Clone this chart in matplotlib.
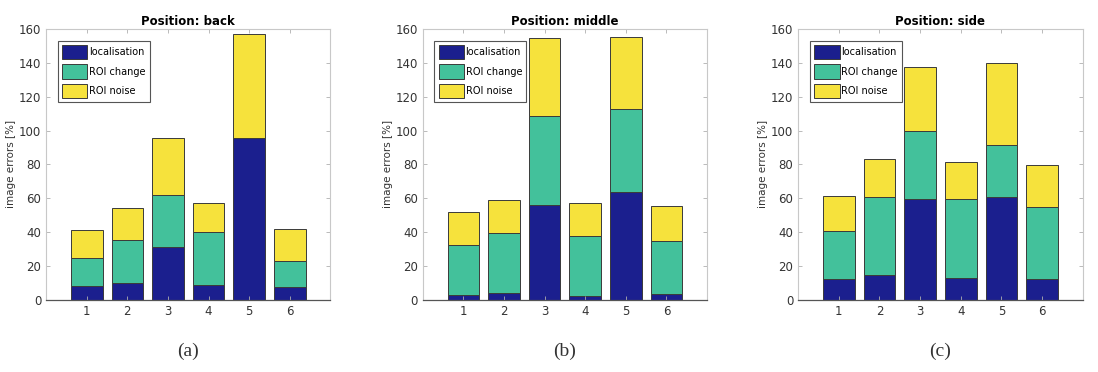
import numpy as np
import matplotlib
matplotlib.use("Agg")
import matplotlib.pyplot as plt

# Data (image errors in %)
groups = [1, 2, 3, 4, 5, 6]
titles = ["Position: back", "Position: middle", "Position: side"]
captions = ["(a)", "(b)", "(c)"]

back_loc = [8.3, 9.9, 31.5, 8.9, 95.6, 7.5]
back_change = [16.7, 25.6, 30.2, 30.9, 0.0, 15.2]
back_noise = [16.4, 18.5, 33.9, 17.5, 61.4, 18.9]

middle_loc = [2.6, 4.1, 55.8, 2.2, 63.8, 3.7]
middle_change = [29.9, 35.3, 53.0, 35.8, 49.1, 30.8]
middle_noise = [19.1, 19.3, 45.7, 19.1, 42.1, 20.7]

side_loc = [12.4, 14.8, 59.3, 13.0, 61.0, 12.4]
side_change = [28.5, 45.8, 40.5, 46.3, 30.5, 42.5]
side_noise = [20.7, 22.8, 37.9, 22.3, 48.7, 24.5]

panels = [
    (back_loc, back_change, back_noise),
    (middle_loc, middle_change, middle_noise),
    (side_loc, side_change, side_noise),
]

colors = ["#1b1f8e", "#43c19b", "#f6e23c"]
labels = ["localisation", "ROI change", "ROI noise"]

fig = plt.figure(figsize=(10.98, 3.72), dpi=100)
lefts = [0.042, 0.385, 0.727]

for i, (loc, change, noise) in enumerate(panels):
    ax = fig.add_axes([lefts[i], 0.194, 0.259, 0.728])
    x = np.array(groups)
    loc = np.array(loc)
    change = np.array(change)
    noise = np.array(noise)
    ax.bar(x, loc, 0.78, color=colors[0], edgecolor="#3a3a3a", linewidth=0.7, label=labels[0])
    ax.bar(x, change, 0.78, bottom=loc, color=colors[1], edgecolor="#3a3a3a", linewidth=0.7, label=labels[1])
    ax.bar(x, noise, 0.78, bottom=loc + change, color=colors[2], edgecolor="#3a3a3a", linewidth=0.7, label=labels[2])

    ax.set_xlim(0, 7)
    ax.set_ylim(0, 160)
    ax.set_xticks(groups)
    ax.set_yticks(np.arange(0, 161, 20))
    ax.tick_params(direction="in", top=True, right=True, length=3, width=0.6,
                   color="#b0b0b0", labelsize=8.5, labelcolor="#333333")
    for side in ["top", "right", "left"]:
        ax.spines[side].set_color("#c8c8c8")
        ax.spines[side].set_linewidth(0.8)
    ax.spines["bottom"].set_color("#555555")
    ax.spines["bottom"].set_linewidth(0.9)

    ax.set_title(titles[i], fontsize=8.5, fontweight="bold", pad=3)
    ax.set_ylabel("image errors [%]", fontsize=7.5, color="#333333", labelpad=2)

    leg = ax.legend(loc="upper left", fontsize=7, handlelength=2.6, handleheight=1.9,
                    borderaxespad=1.2, labelspacing=0.5, handletextpad=0.15,
                    fancybox=False, framealpha=1, edgecolor="#555555",
                    borderpad=0.45)
    leg.get_frame().set_linewidth(0.8)

    fig.text(lefts[i] + 0.259 / 2, 0.055, captions[i], ha="center", va="center",
             fontsize=14, family="Liberation Serif", color="#333333")

fig.savefig("out.png", dpi=100)
